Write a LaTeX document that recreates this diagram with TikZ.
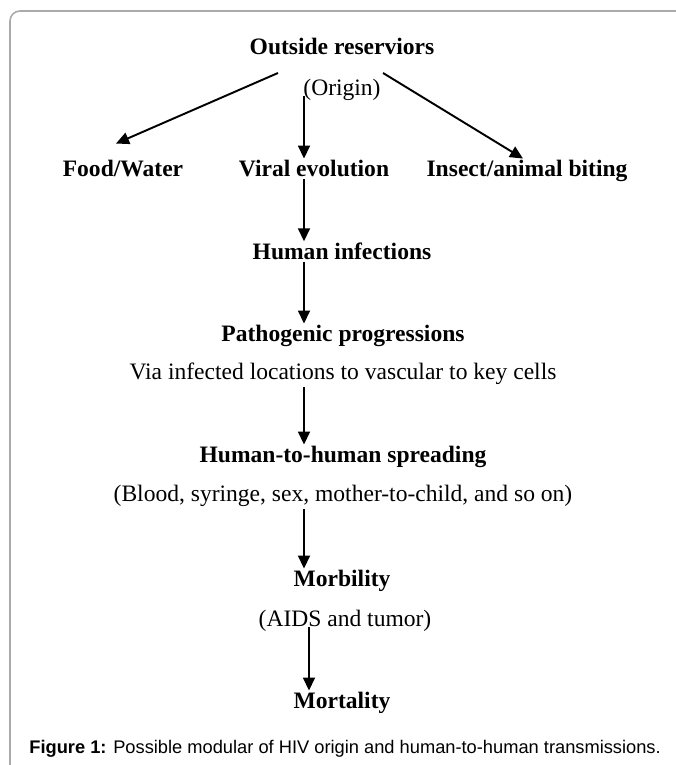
\documentclass[tikz,border=0pt]{standalone}
\usepackage{fontspec}
\setmainfont{Liberation Serif}
\newfontfamily\capfont{Liberation Sans}
\usepackage{tikz}
\usetikzlibrary{arrows.meta}
\definecolor{rand}{RGB}{170,170,170}
\definecolor{zw}{RGB}{0,0,0}

\begin{document}
\begin{tikzpicture}[x=1cm,y=1cm,
  lbl/.style={anchor=base,inner sep=1pt,font=\fontsize{13.4}{16}\selectfont\bfseries},
  sub/.style={anchor=base,inner sep=1pt,font=\fontsize{13.4}{16}\selectfont},
  pijl/.style={-{Triangle[length=7.4pt,width=6.8pt]},line width=1.1pt,zw}]
  \useasboundingbox (0,0) rectangle (13.52,15.3);

  % outer frame
  \draw[rand,line width=0.9pt,rounded corners=0.2cm] (0.2,0) |- (13.52,15.08);

  % origin
  \node[lbl] (outside) at (6.84,14.2) {Outside reserviors};
  \node[sub] (origin) at (6.84,13.38) {(Origin)};

  % three routes
  \node[lbl] (food) at (2.46,11.76) {Food/Water};
  \node[lbl] (viral) at (6.28,11.76) {Viral evolution};
  \node[lbl] (insect) at (10.54,11.76) {Insect/animal biting};

  % chain
  \node[lbl] (infect) at (6.84,10.1) {Human infections};
  \node[lbl] (patho) at (6.86,8.46) {Pathogenic progressions};
  \node[sub] (via) at (6.86,7.7) {Via infected locations to vascular to key cells};
  \node[lbl] (spread) at (6.86,6.04) {Human-to-human spreading};
  \node[sub] (routes) at (6.86,5.26) {(Blood, syringe, sex, mother-to-child, and so on)};
  \node[lbl] (morb) at (6.84,3.56) {Morbility};
  \node[sub] (aids) at (6.9,2.76) {(AIDS and tumor)};
  \node[lbl] (mort) at (6.84,1.12) {Mortality};

  % caption
  \node[anchor=base west,inner sep=0pt,font=\capfont\fontsize{10.4}{12}\selectfont] (cap) at (0.58,0.24)
    {\textbf{Figure 1:} Possible modular of HIV origin and human-to-human transmissions.};

  % arrows
  \coordinate (links) at (5.56,13.84);
  \coordinate (rechts) at (7.66,13.84);
  \coordinate (as) at (6.08,0);
  \coordinate (as2) at (6.18,0);
  \draw[pijl] (links) -- ([xshift=-0.14cm,yshift=0.3cm]food.north);
  \draw[pijl] (rechts) -- ([xshift=-0.08cm]insect.north);
  \draw[pijl] (origin.base -| as) -- (viral.north -| as);
  \draw[pijl] (viral.south -| as) -- (infect.north -| as);
  \draw[pijl] (infect.south -| as) -- (patho.north -| as);
  \draw[pijl] (via.south -| as) -- (spread.north -| as);
  \draw[pijl] (routes.south -| as) -- (morb.north -| as);
  \draw[pijl] (aids.base -| as2) -- (mort.north -| as2);
\end{tikzpicture}
\end{document}
